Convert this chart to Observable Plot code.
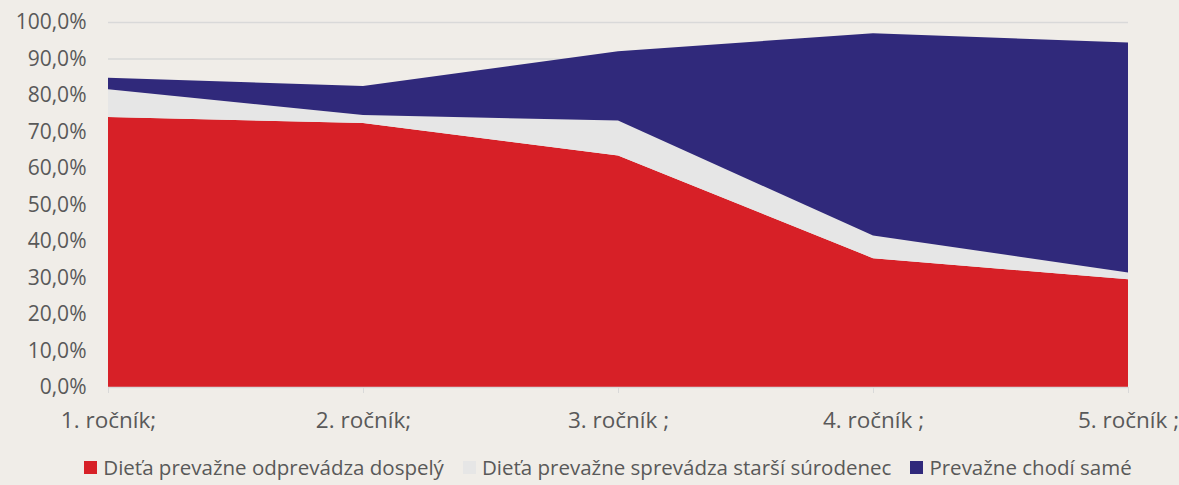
<!DOCTYPE html>
<html>
<head>
<meta charset="utf-8">
<script src="https://cdn.jsdelivr.net/npm/d3@7"></script>
<script src="https://cdn.jsdelivr.net/npm/@observablehq/plot@0.6"></script>
<style>
  html, body { margin: 0; padding: 0; background: #f0ede8; }
  body { width: 1179px; height: 485px; overflow: hidden; font-family: "Open Sans", "Noto Sans", sans-serif; }
  #chart svg { display: block; background: #f0ede8; }
  #legend { display: flex; justify-content: center; gap: 19px; margin-top: 8px; margin-left: 37px; font-size: 20.5px; color: #595959; white-space: nowrap; }
  #legend .item { display: flex; align-items: center; gap: 6px; }
  #legend .sw { width: 13px; height: 13px; display: inline-block; }
</style>
</head>
<body>
<div id="chart"></div>
<div id="legend"></div>
<script>
const categories = ["1. ročník;", "2. ročník;", "3. ročník ;", "4. ročník ;", "5. ročník ;"];
const seriesNames = ["Dieťa prevažne odprevádza dospelý", "Dieťa prevažne sprevádza starší súrodenec", "Prevažne chodí samé"];
const seriesColors = ["#d72027", "#e6e6e6", "#30297b"];
const adult = [74.0, 72.3, 63.4, 35.3, 29.5];
const sibling = [7.6, 2.2, 9.6, 6.2, 1.9];
const alone = [3.1, 8.0, 19.0, 55.4, 63.0];
const yTicks = [0, 10, 20, 30, 40, 50, 60, 70, 80, 90, 100];

const seriesValues = [adult, sibling, alone];
const data = [];
seriesValues.forEach((vals, s) => {
  vals.forEach((v, i) => data.push({cat: categories[i], series: seriesNames[s], value: v}));
});

const fmt = d => d.toFixed(1).replace(".", ",") + "%";

const chart = Plot.plot({
  width: 1179,
  height: 445,
  marginTop: 22,
  marginBottom: 58,
  marginLeft: 108,
  marginRight: 51,
  style: {background: "#f0ede8", fontFamily: "'Open Sans', 'Noto Sans', sans-serif", color: "#595959"},
  x: {type: "point", domain: categories, padding: 0, label: null},
  y: {domain: [0, 100], label: null},
  color: {domain: seriesNames, range: seriesColors},
  marks: [
    Plot.ruleY(yTicks.filter(d => d > 0), {stroke: "#d9d9d9", strokeWidth: 1.5}),
    Plot.areaY(data, {x: "cat", y: "value", z: "series", fill: "series", order: seriesNames, fillOpacity: 1}),
    Plot.ruleY([0], {stroke: "#d9d9d9", strokeWidth: 1.5}),
    Plot.axisY({ticks: yTicks, tickFormat: fmt, tickSize: 0, tickPadding: 22, label: null, fill: "#595959", fontSize: 21}),
    Plot.axisX({tickSize: 6, tickPadding: 19, stroke: "#d9d9d9", label: null, fill: "#595959", fontSize: 22.5})
  ]
});
document.getElementById("chart").appendChild(chart);

const legend = document.getElementById("legend");
seriesNames.forEach((n, i) => {
  const it = document.createElement("span");
  it.className = "item";
  const sw = document.createElement("span");
  sw.className = "sw";
  sw.style.background = seriesColors[i];
  const tx = document.createElement("span");
  tx.textContent = n;
  it.appendChild(sw); it.appendChild(tx);
  legend.appendChild(it);
});
</script>
</body>
</html>
